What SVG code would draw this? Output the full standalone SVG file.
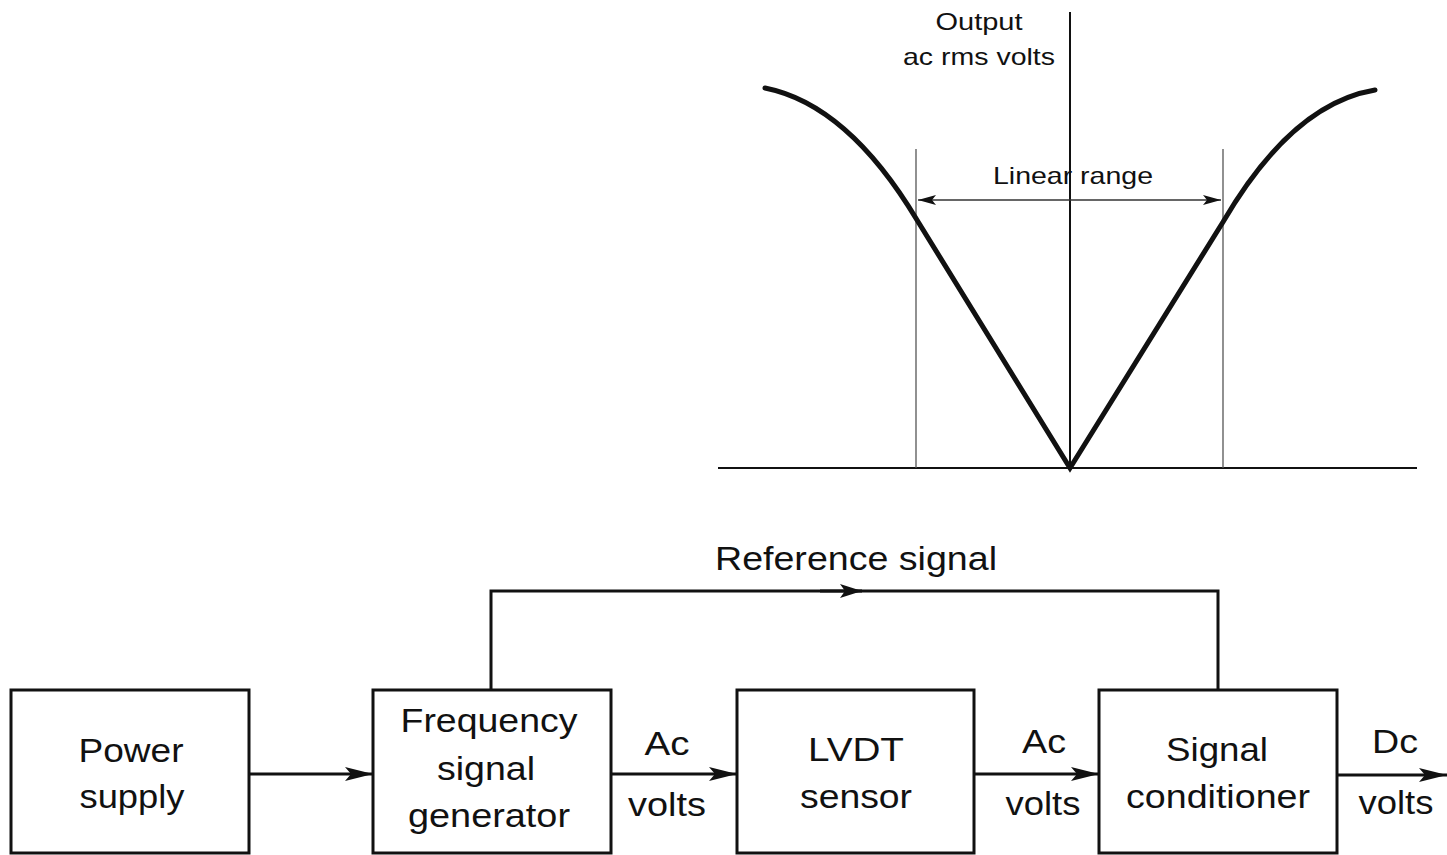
<svg xmlns="http://www.w3.org/2000/svg" width="1447" height="855" viewBox="0 0 1447 855">
  <style>
    text { font-family: "Liberation Sans", Arial, sans-serif; fill: #111; text-anchor: middle; }
    .lbl { font-size: 34px; }
    .small { font-size: 24px; }
    .box { fill: none; stroke: #111; stroke-width: 3; }
    .wire { fill: none; stroke: #111; stroke-width: 3; }
    .axis { fill: none; stroke: #111; stroke-width: 2; }
    .guide { fill: none; stroke: #555; stroke-width: 1.3; }
    .curve { fill: none; stroke: #111; stroke-width: 5; stroke-linejoin: miter; stroke-linecap: round; }
  </style>
  <defs>
    <marker id="head" viewBox="0 0 28 14" refX="28" refY="7" markerWidth="28" markerHeight="14" markerUnits="userSpaceOnUse" orient="auto">
      <path d="M0,0 L28,7 L0,14 L6,7 Z" fill="#111"/>
    </marker>
    <marker id="headMid" viewBox="0 0 22 14" refX="22" refY="7" markerWidth="22" markerHeight="14" markerUnits="userSpaceOnUse" orient="auto">
      <path d="M0,0 L22,7 L0,14 L5,7 Z" fill="#111"/>
    </marker>
    <marker id="headThin" viewBox="0 0 18 10" refX="18" refY="5" markerWidth="18" markerHeight="10" markerUnits="userSpaceOnUse" orient="auto-start-reverse">
      <path d="M0,0 L18,5 L0,10 L4,5 Z" fill="#111"/>
    </marker>
  </defs>

  <!-- Output characteristic graph -->
  <g id="graph">
    <line class="axis" x1="1070" y1="12" x2="1070" y2="470"/>
    <line class="axis" x1="718" y1="468" x2="1417" y2="468" stroke-width="2.5"/>
    <line class="guide" x1="916" y1="149" x2="916" y2="468"/>
    <line class="guide" x1="1223" y1="149" x2="1223" y2="468"/>
    <line x1="918" y1="200" x2="1221" y2="200" stroke="#333" stroke-width="1.6" marker-start="url(#headThin)" marker-end="url(#headThin)"/>
    <path class="curve" d="M765,88 C825,100 875,150 917,220 L1070,468 L1223,222 C1265,150 1315,100 1375,90"/>
    <text class="small" x="979" y="30" textLength="87" lengthAdjust="spacingAndGlyphs">Output</text>
    <text class="small" x="979" y="65" textLength="152" lengthAdjust="spacingAndGlyphs">ac rms volts</text>
    <text class="small" x="1073" y="184" textLength="160" lengthAdjust="spacingAndGlyphs">Linear range</text>
  </g>

  <!-- Signal chain blocks -->
  <g id="power-supply">
    <rect class="box" x="11" y="690" width="238" height="163"/>
    <text class="lbl" x="131" y="762" textLength="105" lengthAdjust="spacingAndGlyphs">Power</text>
    <text class="lbl" x="132" y="808" textLength="105" lengthAdjust="spacingAndGlyphs">supply</text>
  </g>
  <g id="frequency-generator">
    <rect class="box" x="373" y="690" width="238" height="163"/>
    <text class="lbl" x="489" y="732" textLength="177" lengthAdjust="spacingAndGlyphs">Frequency</text>
    <text class="lbl" x="486" y="780" textLength="98" lengthAdjust="spacingAndGlyphs">signal</text>
    <text class="lbl" x="489" y="827" textLength="162" lengthAdjust="spacingAndGlyphs">generator</text>
  </g>
  <g id="lvdt-sensor">
    <rect class="box" x="737" y="690" width="237" height="163"/>
    <text class="lbl" x="856" y="761" textLength="96" lengthAdjust="spacingAndGlyphs">LVDT</text>
    <text class="lbl" x="856" y="808" textLength="112" lengthAdjust="spacingAndGlyphs">sensor</text>
  </g>
  <g id="signal-conditioner">
    <rect class="box" x="1099" y="690" width="238" height="163"/>
    <text class="lbl" x="1217" y="761" textLength="102" lengthAdjust="spacingAndGlyphs">Signal</text>
    <text class="lbl" x="1218" y="808" textLength="184" lengthAdjust="spacingAndGlyphs">conditioner</text>
  </g>

  <!-- Connectors -->
  <g id="connectors">
    <line class="wire" x1="249" y1="774" x2="373" y2="774" marker-end="url(#head)"/>
    <line class="wire" x1="611" y1="774" x2="737" y2="774" marker-end="url(#head)"/>
    <line class="wire" x1="974" y1="774" x2="1099" y2="774" marker-end="url(#head)"/>
    <line class="wire" x1="1337" y1="775" x2="1447" y2="775" marker-end="url(#head)"/>
    <polyline class="wire" points="491,690 491,591 1218,591 1218,690"/>
    <line class="wire" x1="820" y1="591" x2="862" y2="591" marker-end="url(#headMid)"/>
    <text class="lbl" x="856" y="570" textLength="282" lengthAdjust="spacingAndGlyphs">Reference signal</text>
    <text class="lbl" x="667" y="755" textLength="45" lengthAdjust="spacingAndGlyphs">Ac</text>
    <text class="lbl" x="667" y="816" textLength="78" lengthAdjust="spacingAndGlyphs">volts</text>
    <text class="lbl" x="1044" y="753" textLength="44" lengthAdjust="spacingAndGlyphs">Ac</text>
    <text class="lbl" x="1043" y="815" textLength="75" lengthAdjust="spacingAndGlyphs">volts</text>
    <text class="lbl" x="1395" y="753" textLength="46" lengthAdjust="spacingAndGlyphs">Dc</text>
    <text class="lbl" x="1396" y="814" textLength="75" lengthAdjust="spacingAndGlyphs">volts</text>
  </g>
</svg>
